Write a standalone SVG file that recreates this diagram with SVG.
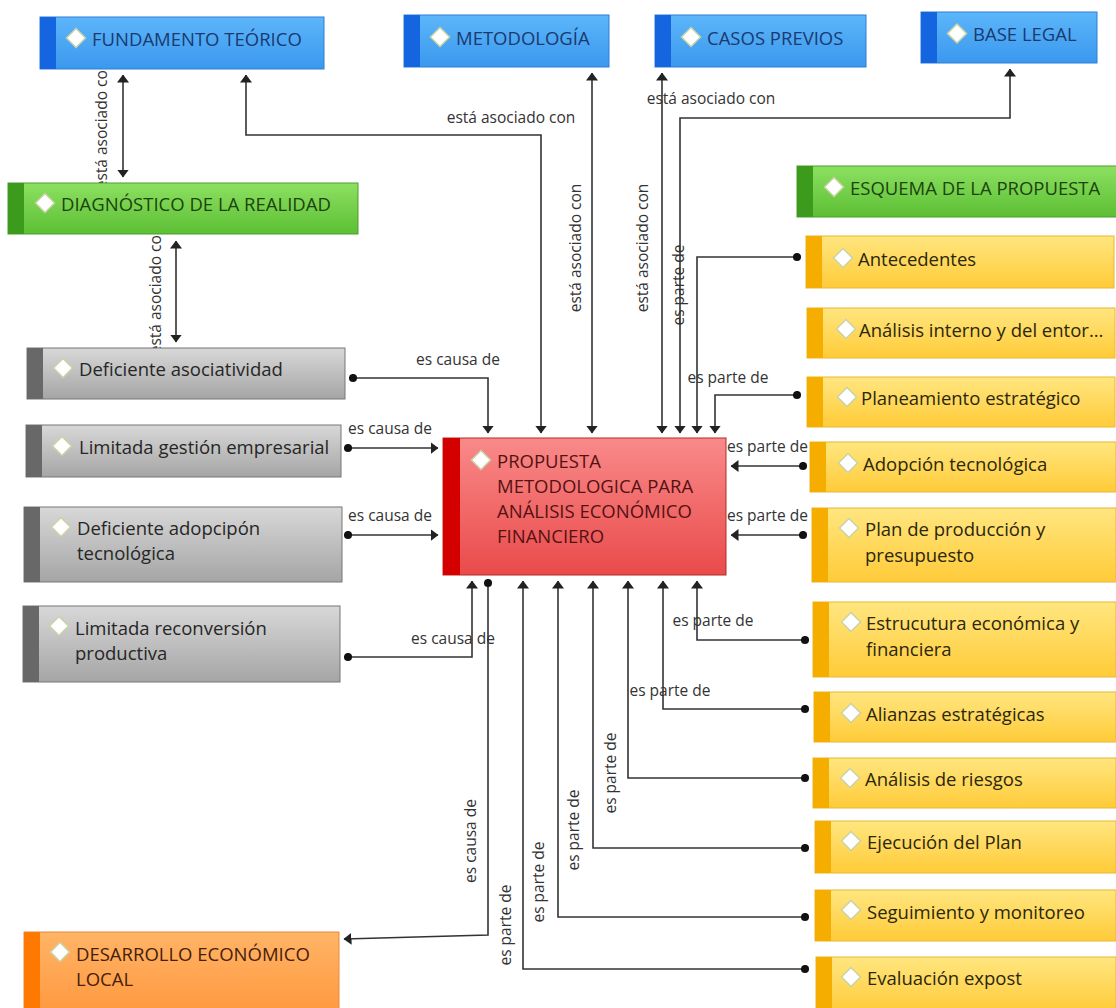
<svg xmlns="http://www.w3.org/2000/svg" width="1116" height="1008" viewBox="0 0 1116 1008">
<style>
.lbl{font-family:"Open Sans","Noto Sans","DejaVu Sans",sans-serif;font-size:15.5px;fill:#333}
.nt{font-family:"Open Sans","Noto Sans","DejaVu Sans",sans-serif;font-size:18.5px}
.c{fill:none;stroke:#333;stroke-width:1.6}
.dia{fill:#fff;stroke:#c9d3a6;stroke-width:1.5}
.blue .bg{fill:url(#gBlue);stroke:#2d7fd6}.blue .st{fill:#1565e0}.blue text{fill:#1a3a70}
.green .bg{fill:url(#gGreen);stroke:#4a9f2a}.green .st{fill:#3c9a1c}.green text{fill:#1c440f}
.gray .bg{fill:url(#gGray);stroke:#777}.gray .st{fill:#686868}.gray text{fill:#262626}
.red .bg{fill:url(#gRed);stroke:#b52a2a}.red .st{fill:#d40000}.red text{fill:#541212}
.yel .bg{fill:url(#gYel);stroke:#e8b830}.yel .st{fill:#f5ae00}.yel text{fill:#2b270d}
.ora .bg{fill:url(#gOra);stroke:#e88a3a}.ora .st{fill:#ff7800}.ora text{fill:#45200d}
</style>
<defs>
<linearGradient id="gBlue" x1="0" y1="0" x2="0" y2="1"><stop offset="0" stop-color="#5db6fa"/><stop offset="1" stop-color="#3a98ee"/></linearGradient>
<linearGradient id="gGreen" x1="0" y1="0" x2="0" y2="1"><stop offset="0" stop-color="#8de061"/><stop offset="1" stop-color="#5cbf34"/></linearGradient>
<linearGradient id="gGray" x1="0" y1="0" x2="0" y2="1"><stop offset="0" stop-color="#d8d8d8"/><stop offset="1" stop-color="#a5a5a5"/></linearGradient>
<linearGradient id="gRed" x1="0" y1="0" x2="0" y2="1"><stop offset="0" stop-color="#f98a8a"/><stop offset="1" stop-color="#ea4a4a"/></linearGradient>
<linearGradient id="gYel" x1="0" y1="0" x2="0" y2="1"><stop offset="0" stop-color="#ffe680"/><stop offset="1" stop-color="#ffcb38"/></linearGradient>
<linearGradient id="gOra" x1="0" y1="0" x2="0" y2="1"><stop offset="0" stop-color="#ffb466"/><stop offset="1" stop-color="#ff9940"/></linearGradient>
<marker id="arr" viewBox="0 0 8 12" refX="7.5" refY="6" markerWidth="8" markerHeight="12" markerUnits="userSpaceOnUse" orient="auto-start-reverse"><path d="M0,0 L8,6 L0,12 z" fill="#222"/></marker>
<marker id="dot" viewBox="0 0 10 10" refX="5" refY="5" markerWidth="9" markerHeight="9" markerUnits="userSpaceOnUse"><circle cx="5" cy="5" r="4.5" fill="#111"/></marker>
</defs>
<rect width="1116" height="1008" fill="#fff"/>

<g id="connectors">
<path class="c" d="M123,75 V177" marker-start="url(#arr)" marker-end="url(#arr)"/>
<path class="c" d="M176,241 V342" marker-start="url(#arr)" marker-end="url(#arr)"/>
<path class="c" d="M246,75 V135 H541 V433" marker-start="url(#arr)" marker-end="url(#arr)"/>
<path class="c" d="M592,73 V433" marker-start="url(#arr)" marker-end="url(#arr)"/>
<path class="c" d="M662,73 V433" marker-start="url(#arr)" marker-end="url(#arr)"/>
<path class="c" d="M1010,69 V118 H680 V433" marker-start="url(#arr)" marker-end="url(#arr)"/>
<path class="c" d="M797,257 H697 V433" marker-start="url(#dot)" marker-end="url(#arr)"/>
<path class="c" d="M797,395 H715 V433" marker-start="url(#dot)" marker-end="url(#arr)"/>
<path class="c" d="M803,466 H731" marker-start="url(#dot)" marker-end="url(#arr)"/>
<path class="c" d="M803,535 H731" marker-start="url(#dot)" marker-end="url(#arr)"/>
<path class="c" d="M805,640 H697 V581" marker-start="url(#dot)" marker-end="url(#arr)"/>
<path class="c" d="M805,709 H663 V581" marker-start="url(#dot)" marker-end="url(#arr)"/>
<path class="c" d="M805,778 H628 V581" marker-start="url(#dot)" marker-end="url(#arr)"/>
<path class="c" d="M805,848 H593 V581" marker-start="url(#dot)" marker-end="url(#arr)"/>
<path class="c" d="M805,917 H558 V581" marker-start="url(#dot)" marker-end="url(#arr)"/>
<path class="c" d="M805,969 H523 V581" marker-start="url(#dot)" marker-end="url(#arr)"/>
<path class="c" d="M353,378 H488 V433" marker-start="url(#dot)" marker-end="url(#arr)"/>
<path class="c" d="M348,448 H438" marker-start="url(#dot)" marker-end="url(#arr)"/>
<path class="c" d="M348,535 H438" marker-start="url(#dot)" marker-end="url(#arr)"/>
<path class="c" d="M348,657 H472 V581" marker-start="url(#dot)" marker-end="url(#arr)"/>
<path class="c" d="M488,583 V935 L344,939" marker-start="url(#dot)" marker-end="url(#arr)"/>

<g class="lbl" dominant-baseline="central">
<text x="101" y="125" text-anchor="middle" transform="rotate(-90 101 125)">está asociado con</text>
<text x="155" y="290" text-anchor="middle" transform="rotate(-90 155 290)">está asociado con</text>
<text x="511" y="117" text-anchor="middle">está asociado con</text>
<text x="575" y="248" text-anchor="middle" transform="rotate(-90 575 248)">está asociado con</text>
<text x="642" y="248" text-anchor="middle" transform="rotate(-90 642 248)">está asociado con</text>
<text x="711" y="98" text-anchor="middle">está asociado con</text>
<text x="678" y="285" text-anchor="middle" transform="rotate(-90 678 285)">es parte de</text>
<text x="728" y="377" text-anchor="middle">es parte de</text>
<text x="727" y="446">es parte de</text>
<text x="727" y="515">es parte de</text>
<text x="713" y="620" text-anchor="middle">es parte de</text>
<text x="670" y="690" text-anchor="middle">es parte de</text>
<text x="610" y="773" text-anchor="middle" transform="rotate(-90 610 773)">es parte de</text>
<text x="573" y="830" text-anchor="middle" transform="rotate(-90 573 830)">es parte de</text>
<text x="538" y="882" text-anchor="middle" transform="rotate(-90 538 882)">es parte de</text>
<text x="505" y="925" text-anchor="middle" transform="rotate(-90 505 925)">es parte de</text>
<text x="458" y="359" text-anchor="middle">es causa de</text>
<text x="390" y="428" text-anchor="middle">es causa de</text>
<text x="390" y="515" text-anchor="middle">es causa de</text>
<text x="453" y="638" text-anchor="middle">es causa de</text>
<text x="470" y="841" text-anchor="middle" transform="rotate(-90 470 841)">es causa de</text>
</g>
</g>

<g id="n-fundamento" class="blue"><rect class="bg" x="40" y="17" width="284" height="52"/><rect class="st" x="40" y="17" width="16" height="52"/><path class="dia" d="M76,28.5 L85.5,38 L76,47.5 L66.5,38 z"/><text class="nt" x="92" y="38" dominant-baseline="central">FUNDAMENTO TEÓRICO</text></g>
<g id="n-metodologia" class="blue"><rect class="bg" x="404" y="15" width="205" height="52"/><rect class="st" x="404" y="15" width="16" height="52"/><path class="dia" d="M440,27.5 L449.5,37 L440,46.5 L430.5,37 z"/><text class="nt" x="456" y="37" dominant-baseline="central">METODOLOGÍA</text></g>
<g id="n-casos" class="blue"><rect class="bg" x="655" y="15" width="211" height="52"/><rect class="st" x="655" y="15" width="16" height="52"/><path class="dia" d="M691,27.5 L700.5,37 L691,46.5 L681.5,37 z"/><text class="nt" x="707" y="37" dominant-baseline="central">CASOS PREVIOS</text></g>
<g id="n-base" class="blue"><rect class="bg" x="921" y="12" width="176" height="51"/><rect class="st" x="921" y="12" width="16" height="51"/><path class="dia" d="M957,24 L966.5,33.5 L957,43 L947.5,33.5 z"/><text class="nt" x="973" y="33" dominant-baseline="central">BASE LEGAL</text></g>
<g id="n-diagnostico" class="green"><rect class="bg" x="8" y="183" width="350" height="51"/><rect class="st" x="8" y="183" width="16" height="51"/><path class="dia" d="M45,193.5 L54.5,203 L45,212.5 L35.5,203 z"/><text class="nt" x="61" y="203" dominant-baseline="central">DIAGNÓSTICO DE LA REALIDAD</text></g>
<g id="n-esquema" class="green"><rect class="bg" x="797" y="166" width="325" height="51"/><rect class="st" x="797" y="166" width="16" height="51"/><path class="dia" d="M834,177.5 L843.5,187 L834,196.5 L824.5,187 z"/><text class="nt" x="850" y="187" dominant-baseline="central">ESQUEMA DE LA PROPUESTA</text></g>

<g id="n-asociatividad" class="gray"><rect class="bg" x="27" y="348" width="318" height="51"/><rect class="st" x="27" y="348" width="16" height="51"/><path class="dia" d="M63,358.5 L72.5,368 L63,377.5 L53.5,368 z"/><text class="nt" x="79" y="368" dominant-baseline="central">Deficiente asociatividad</text></g>
<g id="n-gestion" class="gray"><rect class="bg" x="26" y="425" width="315" height="52"/><rect class="st" x="26" y="425" width="16" height="52"/><path class="dia" d="M62,436.5 L71.5,446 L62,455.5 L52.5,446 z"/><text class="nt" x="79" y="446" dominant-baseline="central">Limitada gestión empresarial</text></g>
<g id="n-adopcipon" class="gray"><rect class="bg" x="24" y="507" width="318" height="75"/><rect class="st" x="24" y="507" width="16" height="75"/><path class="dia" d="M61,517.5 L70.5,527 L61,536.5 L51.5,527 z"/><text class="nt" x="77" y="527" dominant-baseline="central">Deficiente adopcipón</text><text class="nt" x="77" y="552" dominant-baseline="central">tecnológica</text></g>
<g id="n-reconversion" class="gray"><rect class="bg" x="23" y="606" width="317" height="76"/><rect class="st" x="23" y="606" width="16" height="76"/><path class="dia" d="M59,616.5 L68.5,626 L59,635.5 L49.5,626 z"/><text class="nt" x="75" y="627" dominant-baseline="central">Limitada reconversión</text><text class="nt" x="75" y="652" dominant-baseline="central">productiva</text></g>
<g id="n-desarrollo" class="ora"><rect class="bg" x="24" y="932" width="315" height="80"/><rect class="st" x="24" y="932" width="16" height="80"/><path class="dia" d="M60,942.5 L69.5,952 L60,961.5 L50.5,952 z"/><text class="nt" x="76" y="953" dominant-baseline="central">DESARROLLO ECONÓMICO</text><text class="nt" x="76" y="978" dominant-baseline="central">LOCAL</text></g>

<g id="n-propuesta" class="red"><rect class="bg" x="443" y="438" width="283" height="137"/><rect class="st" x="443" y="438" width="17" height="137"/><path class="dia" d="M481,450.5 L490.5,460 L481,469.5 L471.5,460 z"/><text class="nt" x="497" y="460" dominant-baseline="central">PROPUESTA</text><text class="nt" x="497" y="485" dominant-baseline="central">METODOLOGICA PARA</text><text class="nt" x="497" y="510" dominant-baseline="central">ANÁLISIS ECONÓMICO</text><text class="nt" x="497" y="535" dominant-baseline="central">FINANCIERO</text></g>

<g id="n-antecedentes" class="yel"><rect class="bg" x="806" y="236" width="308" height="52"/><rect class="st" x="806" y="236" width="16" height="52"/><path class="dia" d="M843,248.5 L852.5,258 L843,267.5 L833.5,258 z"/><text class="nt" x="858" y="258" dominant-baseline="central">Antecedentes</text></g>
<g id="n-analisis" class="yel"><rect class="bg" x="807" y="308" width="308" height="50"/><rect class="st" x="807" y="308" width="16" height="50"/><path class="dia" d="M846,319.5 L855.5,329 L846,338.5 L836.5,329 z"/><text class="nt" x="859" y="329" dominant-baseline="central">Análisis interno y del entor...</text></g>
<g id="n-planeamiento" class="yel"><rect class="bg" x="807" y="377" width="308" height="50"/><rect class="st" x="807" y="377" width="16" height="50"/><path class="dia" d="M847,387.5 L856.5,397 L847,406.5 L837.5,397 z"/><text class="nt" x="861" y="397" dominant-baseline="central">Planeamiento estratégico</text></g>
<g id="n-adopcion" class="yel"><rect class="bg" x="810" y="442" width="306" height="50"/><rect class="st" x="810" y="442" width="16" height="50"/><path class="dia" d="M848,453.5 L857.5,463 L848,472.5 L838.5,463 z"/><text class="nt" x="863" y="463" dominant-baseline="central">Adopción tecnológica</text></g>
<g id="n-plan" class="yel"><rect class="bg" x="812" y="508" width="304" height="74"/><rect class="st" x="812" y="508" width="16" height="74"/><path class="dia" d="M849,518.5 L858.5,528 L849,537.5 L839.5,528 z"/><text class="nt" x="865" y="528" dominant-baseline="central">Plan de producción y</text><text class="nt" x="865" y="554" dominant-baseline="central">presupuesto</text></g>
<g id="n-estrucutura" class="yel"><rect class="bg" x="813" y="602" width="303" height="75"/><rect class="st" x="813" y="602" width="16" height="75"/><path class="dia" d="M851,612.5 L860.5,622 L851,631.5 L841.5,622 z"/><text class="nt" x="866" y="622" dominant-baseline="central">Estrucutura económica y</text><text class="nt" x="866" y="648" dominant-baseline="central">financiera</text></g>
<g id="n-alianzas" class="yel"><rect class="bg" x="814" y="692" width="302" height="50"/><rect class="st" x="814" y="692" width="16" height="50"/><path class="dia" d="M851,703.5 L860.5,713 L851,722.5 L841.5,713 z"/><text class="nt" x="866" y="713" dominant-baseline="central">Alianzas estratégicas</text></g>
<g id="n-riesgos" class="yel"><rect class="bg" x="813" y="758" width="303" height="50"/><rect class="st" x="813" y="758" width="16" height="50"/><path class="dia" d="M850,768.5 L859.5,778 L850,787.5 L840.5,778 z"/><text class="nt" x="865" y="778" dominant-baseline="central">Análisis de riesgos</text></g>
<g id="n-ejecucion" class="yel"><rect class="bg" x="815" y="821" width="301" height="52"/><rect class="st" x="815" y="821" width="16" height="52"/><path class="dia" d="M851,831.5 L860.5,841 L851,850.5 L841.5,841 z"/><text class="nt" x="867" y="841" dominant-baseline="central">Ejecución del Plan</text></g>
<g id="n-seguimiento" class="yel"><rect class="bg" x="815" y="890" width="301" height="51"/><rect class="st" x="815" y="890" width="16" height="51"/><path class="dia" d="M851,900.5 L860.5,910 L851,919.5 L841.5,910 z"/><text class="nt" x="867" y="911" dominant-baseline="central">Seguimiento y monitoreo</text></g>
<g id="n-evaluacion" class="yel"><rect class="bg" x="816" y="957" width="300" height="55"/><rect class="st" x="816" y="957" width="16" height="55"/><path class="dia" d="M851,967.5 L860.5,977 L851,986.5 L841.5,977 z"/><text class="nt" x="867" y="977" dominant-baseline="central">Evaluación expost</text></g>
</svg>
